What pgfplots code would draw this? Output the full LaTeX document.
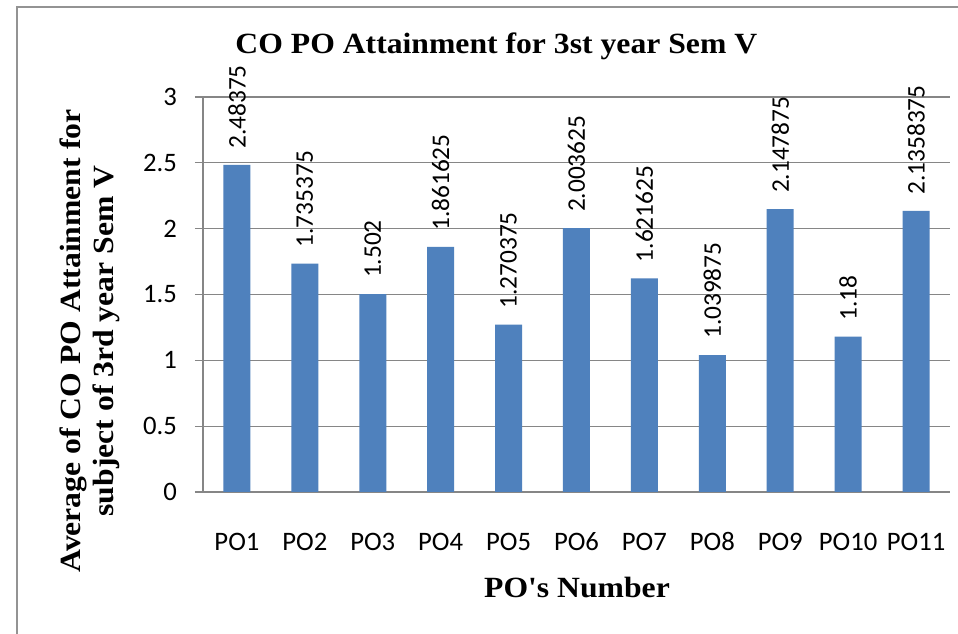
\documentclass[border=0pt]{standalone}
\usepackage{pgfplots}
\pgfplotsset{compat=1.18}
\usepackage{pgfplotstable}
\usepackage{fontspec}
\setmainfont{Liberation Serif}
\newfontfamily\carlito{Carlito}

\definecolor{barblue}{HTML}{4F81BD}
\definecolor{gridgray}{HTML}{868686}

% value and the label shown over each bar
\pgfplotstableread{
x y lab
0 2.48375 2.48375
1 1.735375 1.735375
2 1.502 1.502
3 1.861625 1.861625
4 1.270375 1.270375
5 2.003625 2.003625
6 1.621625 1.621625
7 1.039875 1.039875
8 2.147875 2.147875
9 1.18 1.18
10 2.1358375 2.1358375
}\podata

\newcommand{\bigser}{\fontsize{22}{26}\bfseries}
\newcommand{\apos}{\XeTeXglyph\the\XeTeXcharglyph"27\relax}

\begin{document}
\begin{tikzpicture}
\useasboundingbox (-152.25pt,-106.5pt) rectangle (566.25pt,369pt);
\fill[white] (-152.25pt,-106.5pt) rectangle (566.25pt,369pt);
\draw[gray!85, line width=1.7pt] (-139.5pt,-110pt) -- (-139.5pt,363.5pt) -- (570pt,363.5pt);
\begin{axis}[
	scale only axis,
	width=560.25pt, height=296.25pt,
	xmin=-0.5, xmax=10.5,
	ymin=0, ymax=3,
	axis x line*=bottom, axis y line*=left,
	axis line style={gridgray, line width=0.8pt},
	xtick={0,...,10},
	xticklabels={PO1,PO2,PO3,PO4,PO5,PO6,PO7,PO8,PO9,PO10,PO11},
	ytick={0,0.5,1,1.5,2,2.5,3},
	ymajorgrids,
	grid style={gridgray, line width=0.8pt},
	tick align=outside,
	major tick length=6pt,
	xtick style={draw=none},
	ytick style={gridgray, line width=0.8pt},
	/pgf/number format/assume math mode=true,
	tick label style={font=\carlito\fontsize{20}{24}\selectfont},
	x tick label style={anchor=base, yshift=-38.25pt},
	y tick label style={xshift=-10pt},
	clip=false,
]
\addplot[ybar, bar width=20.25pt, fill=barblue, draw=none,
	nodes near coords, point meta=explicit symbolic,
	every node near coord/.append style={rotate=90, anchor=west,
		inner xsep=12pt, inner ysep=0pt,
		font=\carlito\fontsize{19}{23}\selectfont}]
	table[x=x, y=y, meta=lab] {\podata};
\end{axis}
\node[anchor=base] at (220pt,328.5pt) {\bigser\scalebox{1.08}[1]{CO PO Attainment for 3st year Sem V}};
\node[anchor=base] at (280.5pt,-79.5pt) {\bigser\scalebox{1.08}[1]{PO\apos s Number}};
\node[rotate=90, align=center] at (-84.75pt,113.25pt) {\bigser\scalebox{1.08}[1]{Average of CO PO Attainment for}\\[3pt]\bigser\scalebox{1.08}[1]{subject of 3rd year Sem V}};
\end{tikzpicture}
\end{document}
